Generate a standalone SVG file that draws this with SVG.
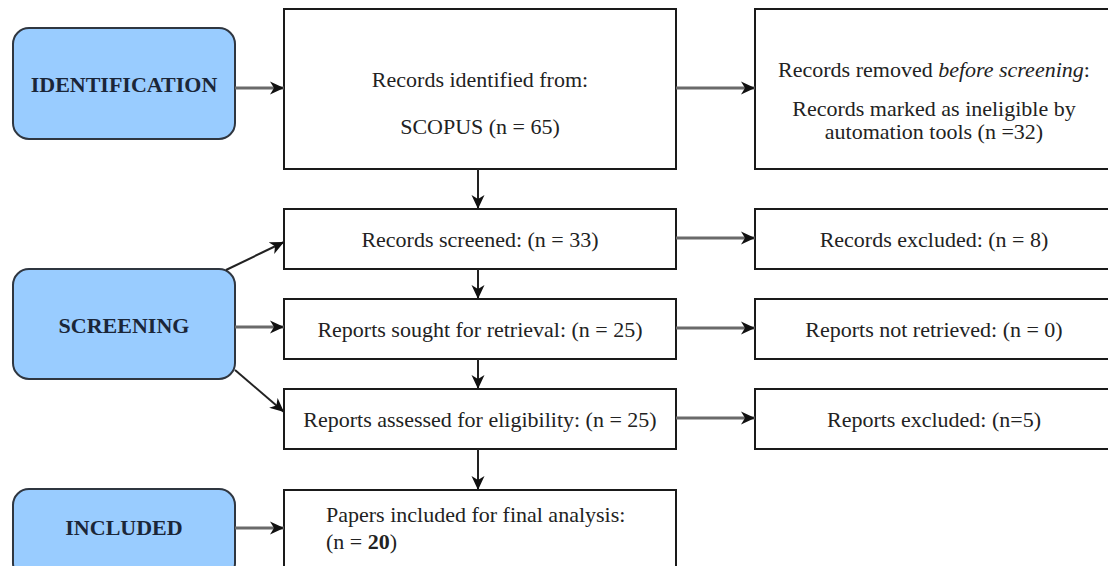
<svg xmlns="http://www.w3.org/2000/svg" width="1108" height="566" viewBox="0 0 1108 566">
<style>
.stage{fill:#99CCFF;stroke:#2f3640;stroke-width:2}
.stage-t{font-family:'Liberation Serif','DejaVu Serif','Times New Roman',serif;font-size:22px;font-weight:bold;fill:#1b2638;text-anchor:middle}
.box{fill:#ffffff;stroke:#1a1a1a;stroke-width:2}
.t{font-family:'Liberation Serif','DejaVu Serif','Times New Roman',serif;font-size:22px;fill:#222;text-anchor:middle}
.tl{font-family:'Liberation Serif','DejaVu Serif','Times New Roman',serif;font-size:22px;fill:#222}
.h{fill:none;stroke:#6a6a6a;stroke-width:3;marker-end:url(#arr)}
.v{fill:none;stroke:#222;stroke-width:2;marker-end:url(#arr)}
</style>
<defs>
<marker id="arr" markerUnits="userSpaceOnUse" markerWidth="16" markerHeight="14" refX="14" refY="7" orient="auto">
<path d="M0,0.5 L14,7 L0,13.5 L4,7 z" fill="#111"/>
</marker>
</defs>
<rect width="1108" height="566" fill="#ffffff"/>

<g id="identification">
<rect class="stage" x="13" y="28" width="222" height="111" rx="16"/>
<text class="stage-t" x="124" y="92" font-family="Liberation Serif, serif">IDENTIFICATION</text>
</g>
<g id="screening">
<rect class="stage" x="13" y="269" width="222" height="110" rx="16"/>
<text class="stage-t" x="124" y="333" font-family="Liberation Serif, serif">SCREENING</text>
</g>
<g id="included">
<rect class="stage" x="13" y="489" width="222" height="90" rx="16"/>
<text class="stage-t" x="124" y="535" font-family="Liberation Serif, serif">INCLUDED</text>
</g>

<g id="records-identified">
<rect class="box" x="284" y="9" width="392" height="160"/>
<text class="t" x="480" y="87">Records identified from:</text>
<text class="t" x="480" y="134">SCOPUS (n = 65)</text>
</g>
<g id="records-removed">
<rect class="box" x="755" y="9" width="362" height="160"/>
<text class="t" x="934" y="77">Records removed <tspan font-style="italic">before screening</tspan>:</text>
<text class="t" x="934" y="116">Records marked as ineligible by</text>
<text class="t" x="934" y="139">automation tools (n =32)</text>
</g>
<g id="records-screened">
<rect class="box" x="284" y="209" width="392" height="60"/>
<text class="t" x="480" y="247">Records screened: (n = 33)</text>
</g>
<g id="records-excluded">
<rect class="box" x="755" y="209" width="362" height="60"/>
<text class="t" x="934" y="247">Records excluded: (n = 8)</text>
</g>
<g id="reports-sought">
<rect class="box" x="284" y="299" width="392" height="60"/>
<text class="t" x="480" y="337">Reports sought for retrieval: (n = 25)</text>
</g>
<g id="reports-not-retrieved">
<rect class="box" x="755" y="299" width="362" height="60"/>
<text class="t" x="934" y="337">Reports not retrieved: (n = 0)</text>
</g>
<g id="reports-assessed">
<rect class="box" x="284" y="389" width="392" height="60"/>
<text class="t" x="480" y="427">Reports assessed for eligibility: (n = 25)</text>
</g>
<g id="reports-excluded">
<rect class="box" x="755" y="389" width="362" height="60"/>
<text class="t" x="934" y="427">Reports excluded: (n=5)</text>
</g>
<g id="papers-included">
<rect class="box" x="284" y="490" width="392" height="90"/>
<text class="tl" x="326" y="522">Papers included for final analysis:</text>
<text class="tl" x="326" y="549">(n = <tspan font-weight="bold">20</tspan>)</text>
</g>

<g id="connectors">
<path class="h" d="M235,88 L284,88"/>
<path class="h" d="M676,88 L755,88"/>
<path class="v" d="M478,169 L478,209"/>
<path class="v" d="M478,269 L478,299"/>
<path class="v" d="M478,359 L478,389"/>
<path class="v" d="M478,449 L478,490"/>
<path class="h" d="M676,238 L755,238"/>
<path class="h" d="M676,328 L755,328"/>
<path class="h" d="M676,418 L755,418"/>
<path class="v" d="M226,270 L284,242"/>
<path class="h" d="M235,327 L284,327"/>
<path class="v" d="M235,370 L284,412"/>
<path class="h" d="M235,528 L284,528"/>
</g>
</svg>
